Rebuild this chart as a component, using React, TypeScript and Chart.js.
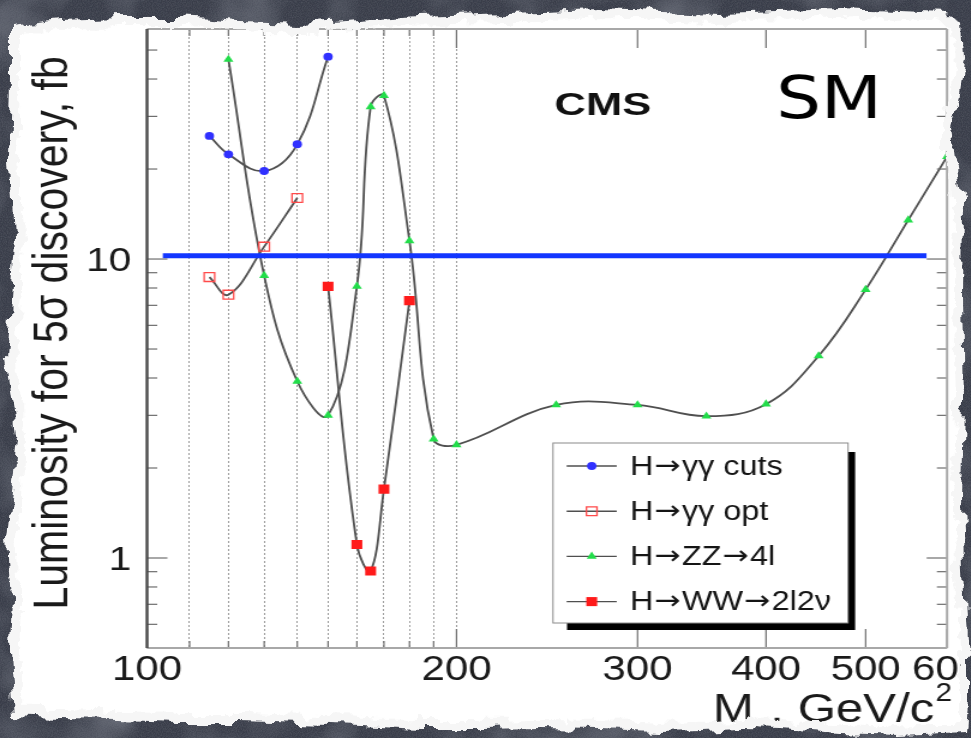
import React, { useEffect, useRef } from 'react';
import { Chart, registerables } from 'chart.js';
import { drawPoint } from 'chart.js/helpers';

Chart.register(...registerables);

// Higgs mass (GeV/c^2) and integrated luminosity needed for a 5σ discovery (fb^-1)
const ggCutsMass = [115, 120, 130, 140, 150];
const ggCutsLumi = [25.8, 22.4, 19.7, 24.2, 47.5];
const ggOptMass = [115, 120, 130, 140];
const ggOptLumi = [8.7, 7.6, 11.0, 16.0];
const zzMass = [120, 130, 140, 150, 160, 165, 170, 180, 190, 200, 250, 300, 350, 400, 450, 500, 550, 600];
const zzLumi = [46.5, 8.8, 3.9, 3.0, 8.1, 32.3, 35.2, 11.5, 2.5, 2.39, 3.25, 3.25, 2.98, 3.27, 4.74, 7.9, 13.5, 22.0];
const wwMass = [150, 160, 165, 170, 180];
const wwLumi = [8.1, 1.11, 0.905, 1.7, 7.26];
const targetMass = [103.6, 573];
const targetLumi = [10.25, 10.25];

const seriesNames = ['H\u2192\u03b3\u03b3 cuts', 'H\u2192\u03b3\u03b3 opt', 'H\u2192ZZ\u21924l', 'H\u2192WW\u21922l2\u03bd'];

const xTicks = [100, 110, 120, 130, 140, 150, 160, 170, 180, 190, 200, 300, 400, 500, 600];
const xLabels = [100, 200, 300, 400, 500, 600];
const yTicks = [0.5, 0.6, 0.7, 0.8, 0.9, 1, 2, 3, 4, 5, 6, 7, 8, 9, 10, 20, 30, 40, 50];
const yLabels = [1, 10];

// The plot is drawn on a narrower canvas and widened horizontally by SX.
const SX = 1.2;
const CW = 810;
const CH = 738;
const PLOT = { left: 122.5, top: 29, right: 789.2, bottom: 648 };
const FONT = '"Liberation Sans", Arial, Helvetica, sans-serif';
const ARROW_FONT = '"DejaVu Sans", sans-serif';

const toPoints = (xs: number[], ys: number[]) => xs.map((x, i) => ({ x, y: ys[i] }));

const curveLine = '#4f4f4f';

// Legend label with the arrows set in a font whose arrow is long and thin
function drawLegendLabel(ctx: CanvasRenderingContext2D, text: string, x: number, y: number) {
  const parts = text.split('\u2192');
  let cx = x;
  parts.forEach((p, i) => {
    if (i > 0) {
      ctx.font = `26px ${ARROW_FONT}`;
      ctx.fillText('\u2192', cx + 1, y - 1);
      cx += ctx.measureText('\u2192').width + 2;
    }
    ctx.font = `27px ${FONT}`;
    ctx.fillText(p, cx, y);
    cx += ctx.measureText(p).width;
  });
}

const decorPlugin = {
  id: 'decor',
  afterDatasetsDraw(chart: any) {
    const { ctx, chartArea: a, scales } = chart;
    const xs = scales.x;
    const ys = scales.y;
    const seg = (x1: number, y1: number, x2: number, y2: number) => {
      ctx.beginPath();
      ctx.moveTo(x1, y1);
      ctx.lineTo(x2, y2);
      ctx.stroke();
    };
    ctx.save();

    // inward tick marks on all four sides
    ctx.strokeStyle = '#6e6e6e';
    ctx.lineWidth = 1.2;
    xTicks.forEach((v) => {
      const px = xs.getPixelForValue(v);
      const len = xLabels.includes(v) ? 19 : 7;
      seg(px, a.bottom, px, a.bottom - len);
      seg(px, a.top, px, a.top + len);
    });
    yTicks.forEach((v) => {
      const py = ys.getPixelForValue(v);
      const len = yLabels.includes(v) ? 17 : 8.5;
      seg(a.left, py, a.left + len, py);
      seg(a.right, py, a.right - len, py);
    });

    // frame
    ctx.strokeStyle = '#a8a8a8';
    ctx.lineWidth = 2;
    seg(a.left, a.top, a.right, a.top);
    seg(a.right, a.top, a.right, a.bottom);
    seg(a.left, a.bottom, a.right, a.bottom);
    ctx.strokeStyle = '#4a4a4a';
    ctx.lineWidth = 2.4;
    seg(a.left, a.top, a.left, a.bottom);

    // legend box with drop shadow
    const L = { left: 460.8, top: 443, right: 706.7, bottom: 623 };
    ctx.fillStyle = '#000';
    ctx.fillRect(L.left + 11.7, L.top + 9, L.right - L.left - 5.8, L.bottom - L.top - 2);
    ctx.fillStyle = '#fff';
    ctx.fillRect(L.left, L.top, L.right - L.left, L.bottom - L.top);
    ctx.strokeStyle = '#8a8a8a';
    ctx.lineWidth = 1;
    ctx.strokeRect(L.left, L.top, L.right - L.left, L.bottom - L.top);
    const rows = chart.data.datasets.filter((d: any) => d.inLegend);
    rows.forEach((d: any, i: number) => {
      const ry = 466 + i * 45.2;
      ctx.strokeStyle = d.borderColor;
      ctx.lineWidth = 1.4;
      seg(472.2, ry, 513.9, ry);
      ctx.fillStyle = d.pointBackgroundColor;
      ctx.strokeStyle = d.pointBorderColor;
      ctx.lineWidth = d.pointBorderWidth;
      drawPoint(ctx, { pointStyle: d.pointStyle, radius: d.pointRadius, rotation: 0, borderWidth: d.pointBorderWidth }, 493.1, ry);
      ctx.fillStyle = '#151515';
      ctx.textAlign = 'left';
      ctx.textBaseline = 'alphabetic';
      drawLegendLabel(ctx, d.label, 525, ry + 8.5);
    });

    // experiment label
    ctx.save();
    ctx.translate(462, 115);
    ctx.scale(1.17, 1);
    ctx.fillStyle = '#111';
    ctx.font = `bold 31px ${FONT}`;
    ctx.fillText('CMS', 0, 0);
    ctx.restore();

    // y-axis title
    ctx.save();
    ctx.translate(55.6, 609.5);
    ctx.rotate(-Math.PI / 2);
    ctx.fillStyle = '#1a1a1a';
    ctx.font = `41px ${FONT}`;
    ctx.textAlign = 'left';
    ctx.textBaseline = 'alphabetic';
    ctx.fillText('Luminosity for 5\u03c3 discovery, fb', 0, 0);
    ctx.restore();

    // x-axis title: M_H, GeV/c^2
    ctx.save();
    ctx.fillStyle = '#1a1a1a';
    ctx.textAlign = 'left';
    ctx.textBaseline = 'alphabetic';
    let tx = 594;
    const base = 722;
    ctx.font = `41px ${FONT}`;
    ctx.fillText('M', tx, base);
    tx += ctx.measureText('M').width;
    ctx.font = `19px ${FONT}`;
    ctx.fillText('H', tx, base + 12);
    tx += ctx.measureText('H').width;
    ctx.font = `41px ${FONT}`;
    ctx.fillText(', GeV/c', tx, base);
    tx += ctx.measureText(', GeV/c').width;
    ctx.font = `25px ${FONT}`;
    ctx.fillText('2', tx + 1, base - 21);
    ctx.restore();

    // slide annotation, drawn without the horizontal widening
    ctx.save();
    ctx.scale(1 / SX, 1);
    ctx.translate(776, 118);
    ctx.scale(1.2, 1);
    ctx.fillStyle = '#000';
    ctx.font = '59px "DejaVu Sans", sans-serif';
    ctx.textAlign = 'left';
    ctx.textBaseline = 'alphabetic';
    ctx.fillText('SM', 0, 0);
    ctx.restore();

    ctx.restore();
  },
};

const paperEdge =
  '12,26 60,20 120,18 180,18 240,22 300,24 360,20 420,16 480,14 540,12 600,10 660,12 720,14 780,12 840,10 900,12 945,14 962,22 ' +
  '964,60 958,100 951,128 955,160 963,200 962,300 964,400 962,500 965,600 968,660 968,700 966,732 ' +
  '900,735 840,733 780,729 740,728 700,730 660,731 600,729 540,728 480,729 420,729 360,726 300,724 240,722 180,722 120,720 60,719 14,717 ' +
  '10,650 12,600 8,540 14,480 18,440 6,360 10,300 14,240 10,160 12,80';

function TornPaper() {
  const region = { x: -60, y: -60, width: 1091, height: 858, filterUnits: 'userSpaceOnUse' as const };
  return (
    <svg width={971} height={738} style={{ position: 'absolute', left: 0, top: 0, pointerEvents: 'none' }}>
      <defs>
        <filter id="tear" {...region}>
          <feTurbulence type="fractalNoise" baseFrequency="0.045" numOctaves={4} seed={7} result="n" />
          <feDisplacementMap in="SourceGraphic" in2="n" scale={16} xChannelSelector="R" yChannelSelector="G" />
        </filter>
        <filter id="tearInner" {...region}>
          <feTurbulence type="fractalNoise" baseFrequency="0.045" numOctaves={4} seed={7} result="n" />
          <feDisplacementMap in="SourceGraphic" in2="n" scale={16} xChannelSelector="R" yChannelSelector="G" result="torn" />
          <feMorphology in="torn" operator="erode" radius={7} result="er" />
          <feTurbulence type="fractalNoise" baseFrequency="0.09" numOctaves={3} seed={19} result="n2" />
          <feDisplacementMap in="er" in2="n2" scale={12} xChannelSelector="R" yChannelSelector="G" />
        </filter>
        <filter id="chalk" x={0} y={0} width={971} height={738} filterUnits="userSpaceOnUse">
          <feTurbulence type="fractalNoise" baseFrequency="0.014" numOctaves={3} seed={4} result="cloud" />
          <feColorMatrix in="cloud" type="matrix" values="0 0 0 0 0.5  0 0 0 0 0.53  0 0 0 0 0.6  0.8 0 0 0 -0.36" result="c1" />
          <feTurbulence type="fractalNoise" baseFrequency="0.8" numOctaves={2} seed={9} result="grain" />
          <feColorMatrix in="grain" type="matrix" values="0 0 0 0 0.12  0 0 0 0 0.13  0 0 0 0 0.16  0.9 0 0 0 -0.3" result="g1" />
          <feMerge>
            <feMergeNode in="c1" />
            <feMergeNode in="g1" />
          </feMerge>
        </filter>
        <mask id="outside" maskUnits="userSpaceOnUse" x={0} y={0} width={971} height={738}>
          <rect width={971} height={738} fill="white" />
          <polygon points={paperEdge} fill="black" filter="url(#tear)" />
        </mask>
        <mask id="fringe" maskUnits="userSpaceOnUse" x={0} y={0} width={971} height={738}>
          <polygon points={paperEdge} fill="white" filter="url(#tear)" />
          <polygon points={paperEdge} fill="black" filter="url(#tearInner)" />
        </mask>
      </defs>
      <rect width={971} height={738} fill="#f6f6f6" mask="url(#fringe)" />
      <g mask="url(#outside)">
        <rect width={971} height={738} fill="#393d49" />
        <rect width={971} height={738} fill="#000" filter="url(#chalk)" />
      </g>
    </svg>
  );
}

export default function App() {
  const canvasRef = useRef<HTMLCanvasElement | null>(null);

  useEffect(() => {
    document.body.style.margin = '0';
    const canvas = canvasRef.current;
    if (!canvas) return;

    const seriesStyle = (label: string, color: string, style: string, radius: number, open = false) => ({
      label,
      inLegend: true,
      borderColor: curveLine,
      borderWidth: 1.8,
      tension: 0.4,
      pointStyle: style,
      pointRadius: radius,
      pointBackgroundColor: open ? 'rgba(255,255,255,0)' : color,
      pointBorderColor: color,
      pointBorderWidth: open ? 1.3 : 0,
      order: 1,
    });

    const chart = new Chart(canvas, {
      type: 'line',
      data: {
        datasets: [
          {
            label: 'target',
            data: toPoints(targetMass, targetLumi),
            borderColor: '#1236ff',
            borderWidth: 5,
            pointRadius: 0,
            tension: 0,
            order: 0,
          } as any,
          { ...seriesStyle(seriesNames[0], '#3030ff', 'circle', 3.9), data: toPoints(ggCutsMass, ggCutsLumi) },
          { ...seriesStyle(seriesNames[1], '#ff4a4a', 'rect', 6.2, true), data: toPoints(ggOptMass, ggOptLumi) },
          { ...seriesStyle(seriesNames[2], '#22dd4a', 'triangle', 4.8), data: toPoints(zzMass, zzLumi) },
          { ...seriesStyle(seriesNames[3], '#ff1a1a', 'rect', 6.4), data: toPoints(wwMass, wwLumi) },
        ],
      },
      options: {
        responsive: false,
        maintainAspectRatio: false,
        animation: false,
        devicePixelRatio: 1,
        events: [],
        layout: { padding: { left: 0, top: PLOT.top, right: CW - PLOT.right, bottom: 0 } },
        plugins: { legend: { display: false }, tooltip: { enabled: false } },
        scales: {
          x: {
            type: 'logarithmic',
            position: 'bottom',
            min: 100,
            max: 600,
            afterBuildTicks: (s: any) => {
              s.ticks = xTicks.map((value) => ({ value }));
            },
            afterFit: (s: any) => {
              s.height = CH - PLOT.bottom;
              s.paddingLeft = 0;
              s.paddingRight = 0;
            },
            grid: {
              drawTicks: false,
              lineWidth: 1,
              color: (c: any) => (c.tick && c.tick.value > 100 && c.tick.value <= 200 ? '#9c9c9c' : 'rgba(0,0,0,0)'),
            },
            border: { display: false, dash: [2, 2] },
            ticks: {
              autoSkip: false,
              maxRotation: 0,
              padding: 1,
              color: '#1a1a1a',
              font: { family: FONT, size: 35 },
              callback: (v: any) => (xLabels.includes(Number(v)) ? String(v) : ''),
            },
          },
          y: {
            type: 'logarithmic',
            min: 0.5,
            max: 58.8,
            afterBuildTicks: (s: any) => {
              s.ticks = yTicks.map((value) => ({ value }));
            },
            afterFit: (s: any) => {
              s.width = PLOT.left;
              s.paddingTop = 0;
              s.paddingBottom = 0;
            },
            grid: { display: false, drawTicks: false },
            border: { display: false },
            ticks: {
              autoSkip: false,
              padding: 13,
              labelOffset: 3,
              color: '#1a1a1a',
              font: { family: FONT, size: 34 },
              callback: (v: any) => (yLabels.includes(Number(v)) ? String(v) : ''),
            },
          },
        },
      } as any,
      plugins: [decorPlugin],
    });

    return () => chart.destroy();
  }, []);

  return (
    <div style={{ position: 'absolute', left: 0, top: 0, width: 971, height: 738, overflow: 'hidden', background: '#ffffff' }}>
      <canvas
        ref={canvasRef}
        width={CW}
        height={CH}
        style={{ position: 'absolute', left: 0, top: 0, transformOrigin: '0 0', transform: `scaleX(${SX})` }}
      />
      <TornPaper />
    </div>
  );
}
